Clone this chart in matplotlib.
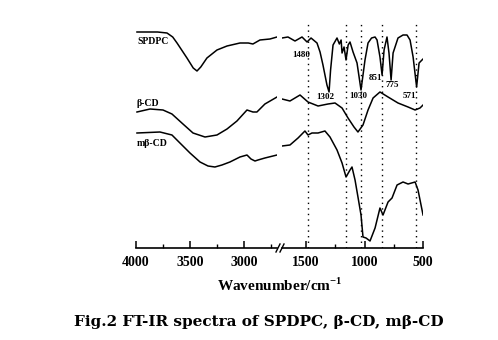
import numpy as np
import matplotlib.pyplot as plt

# wavenumbers (cm-1) and offset transmittance
# high-wavenumber part (4000 - 2700)
spdpc_hi_x = [3991, 3800, 3713, 3660, 3620, 3528, 3470, 3435, 3400, 3343, 3250, 3157, 3037, 2960, 2917, 2852, 2759, 2694]
spdpc_hi_y = [216, 216, 215, 211, 205, 190, 180, 177, 181, 190, 198, 202, 205, 205, 204, 208, 209, 211]

bcd_hi_x = [3991, 3870, 3750, 3667, 3565, 3472, 3361, 3250, 3157, 3065, 2972, 2917, 2880, 2806, 2694]
bcd_hi_y = [136, 139, 138, 134, 124, 115, 111, 113, 119, 127, 138, 136, 136, 144, 151]

mbcd_hi_x = [3991, 3778, 3667, 3593, 3500, 3407, 3333, 3269, 3204, 3130, 3037, 2972, 2935, 2898, 2870, 2806, 2694]
mbcd_hi_y = [115, 116, 113, 105, 95, 86, 82, 81, 83, 86, 91, 93, 89, 87, 88, 90, 93]

# low-wavenumber part (1700 - 500)
spdpc_lo_x = [1705, 1654, 1594, 1534, 1491, 1457, 1406, 1380, 1355, 1321, 1303, 1290, 1269, 1235,
              1215, 1200, 1192, 1175, 1158, 1140, 1124, 1098, 1064, 1030, 996, 970, 940, 910, 893,
              868, 850, 833, 808, 791, 773, 756, 714, 671, 637, 611, 585, 555, 534, 509, 500]
spdpc_lo_y = [210, 211, 207, 211, 206, 210, 205, 196, 183, 163, 156, 178, 203, 210,
              204, 208, 195, 201, 188, 203, 206, 196, 185, 158, 188, 205, 210, 211, 208,
              191, 173, 198, 211, 195, 168, 195, 210, 213, 213, 208, 191, 161, 185, 188, 189]

bcd_lo_x = [1705, 1637, 1551, 1483, 1397, 1312, 1252, 1192, 1141, 1090, 1056, 1013, 970, 927,
            868, 799, 714, 628, 568, 526, 500]
bcd_lo_y = [149, 147, 153, 146, 142, 144, 145, 140, 130, 121, 116, 123, 138, 150,
            156, 151, 145, 141, 138, 140, 143]

mbcd_lo_x = [1705, 1637, 1568, 1509, 1483, 1449, 1397, 1338, 1295, 1235, 1192, 1158, 1124, 1107,
             1081, 1056, 1030, 1013, 987, 953, 910, 868, 842, 799, 765, 722, 671, 628, 568, 543, 500]
mbcd_lo_y = [102, 103, 110, 117, 113, 115, 115, 117, 111, 98, 85, 71, 78, 81,
             68, 51, 33, 11, 10, 7, 20, 40, 33, 46, 50, 63, 66, 64, 66, 58, 33]

marks = [1480, 1160, 1030, 851, 560]
peak_labels = ['1480', '1302', '1030', '851', '775', '571']
peak_x = [1543, 1338, 1056, 906, 761, 620]
peak_y = [193, 151, 152, 170, 163, 152]

serif = 'Liberation Serif'
plt.rcParams['mathtext.fontset'] = 'custom'
plt.rcParams['mathtext.rm'] = 'Liberation Serif:bold'
plt.rcParams['mathtext.bf'] = 'Liberation Serif:bold'

W, H = 498, 340
fig = plt.figure(figsize=(W / 100, H / 100), dpi=100)

bot = (H - 248) / H
hgt = 225 / H
ax1 = fig.add_axes([136 / W, bot, (277 - 136) / W, hgt])
ax2 = fig.add_axes([282 / W, bot, (423.4 - 282) / W, hgt])

lw = 1.1
ax1.plot(spdpc_hi_x, spdpc_hi_y, color='black', lw=lw)
ax1.plot(bcd_hi_x, bcd_hi_y, color='black', lw=lw)
ax1.plot(mbcd_hi_x, mbcd_hi_y, color='black', lw=lw)
ax2.plot(spdpc_lo_x, spdpc_lo_y, color='black', lw=lw)
ax2.plot(bcd_lo_x, bcd_lo_y, color='black', lw=lw)
ax2.plot(mbcd_lo_x, mbcd_lo_y, color='black', lw=lw)

for m in marks:
    ax2.axvline(m, color='black', lw=1.0, ls=(0, (1, 3)))

for t, x, y in zip(peak_labels, peak_x, peak_y):
    ax2.text(x, y, t, fontsize=6.5, fontweight='bold', family=serif, ha='center', va='center')

ax1.text(3991, 206, 'SPDPC', fontsize=7, fontweight='bold', family=serif, va='center')
ax1.text(3991, 145, 'β-CD', fontsize=7, fontweight='bold', family=serif, va='center')
ax1.text(3991, 104, 'mβ-CD', fontsize=7, fontweight='bold', family=serif, va='center')

ax1.set_xlim(4000, 2694)
ax2.set_xlim(1705, 497)
ax1.set_xticks([4000, 3500, 3000])
ax1.set_xticks([3750, 3250, 2750], minor=True)
ax2.set_xticks([1500, 1000, 500])
ax2.set_xticks([1250, 750], minor=True)
for ax in (ax1, ax2):
    ax.set_ylim(0, 225)
    ax.set_yticks([])
    for s in ('top', 'left', 'right'):
        ax.spines[s].set_visible(False)
    ax.spines['bottom'].set_linewidth(1.2)
    ax.tick_params(axis='x', which='major', direction='in', length=5, width=1.1, pad=6)
    ax.tick_params(axis='x', which='minor', direction='in', length=3, width=1.0)
    ax.patch.set_alpha(0)
    for lab in ax.get_xticklabels():
        lab.set_fontfamily(serif)
        lab.set_fontweight('bold')
        lab.set_fontsize(10)

# break marks
for dx in (0, 4):
    fig.add_artist(plt.Line2D([(276 + dx) / W, (280 + dx) / W], [(H - 252) / H, (H - 244) / H],
                              color='black', lw=1.0))

fig.text(280 / W, 1 - 285 / H, 'Wavenumber/cm$^{-1}$', fontsize=11, fontweight='bold',
         family=serif, ha='center', va='center')
fig.text(259 / W, 1 - 322 / H, 'Fig.2 FT-IR spectra of SPDPC, β-CD, mβ-CD', fontsize=11,
         fontweight='bold', family='DejaVu Serif', ha='center', va='center')

fig.savefig('out.png', dpi=100)
